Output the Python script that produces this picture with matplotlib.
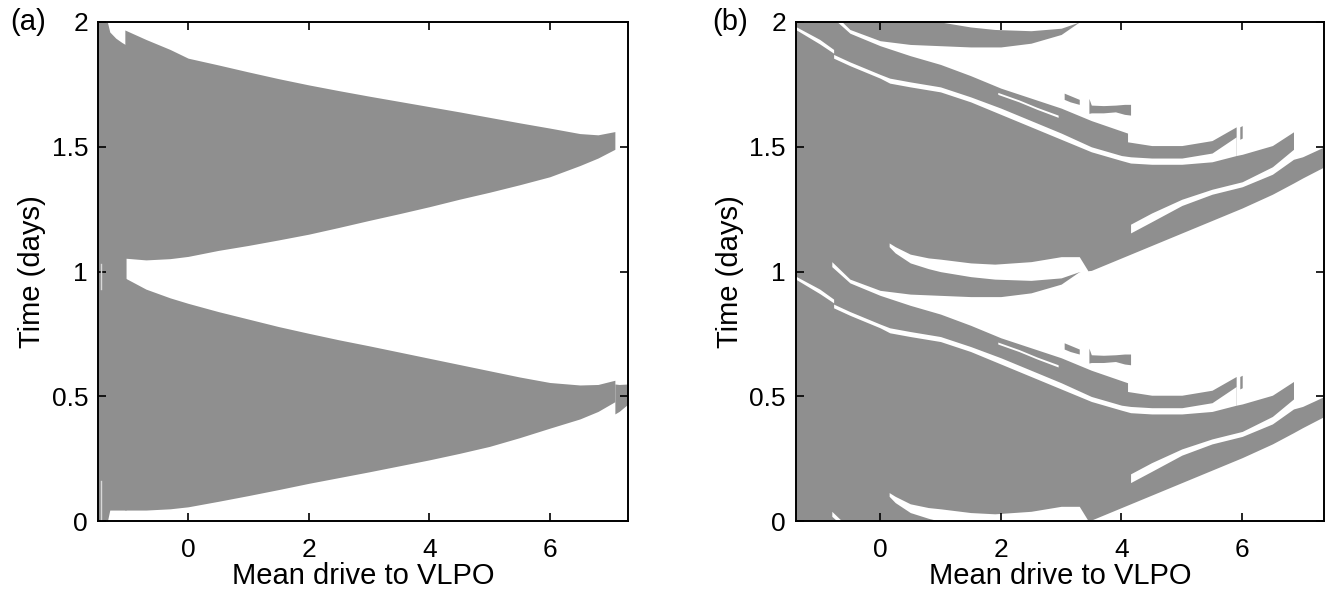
import numpy as np
import matplotlib.pyplot as plt

plt.rcParams['font.family'] = ['Liberation Sans', 'DejaVu Sans']

GRAY = '#8f8f8f'

# ---------------- panel (a) ----------------
a_x = [-1.05, -0.7, -0.3, 0.0, 0.5, 1.0, 1.5, 2.0, 2.5, 3.0, 3.5, 4.0, 4.5, 5.0, 5.5, 6.0, 6.5, 6.8, 7.08]
# first day band
a_day0_lo = [0.045, 0.045, 0.05, 0.058, 0.08, 0.103, 0.127, 0.152, 0.175, 0.198, 0.222, 0.246, 0.272, 0.30, 0.335, 0.373, 0.41, 0.44, 0.479]
a_day0_hi = [0.975, 0.93, 0.895, 0.873, 0.84, 0.81, 0.78, 0.753, 0.727, 0.703, 0.678, 0.653, 0.628, 0.603, 0.578, 0.556, 0.546, 0.548, 0.565]
# second day band
a_day1_lo = [1.054, 1.047, 1.052, 1.061, 1.085, 1.105, 1.127, 1.15, 1.177, 1.205, 1.232, 1.26, 1.29, 1.318, 1.348, 1.38, 1.425, 1.455, 1.49]
a_day1_hi = [1.968, 1.93, 1.89, 1.855, 1.828, 1.80, 1.773, 1.748, 1.725, 1.703, 1.682, 1.661, 1.64, 1.618, 1.596, 1.575, 1.553, 1.548, 1.561]
# left block (low drive: gray over whole day)
a_left_x = [-1.5, -1.34, -1.3, -1.2, -1.1, -1.03]
a_left_lo = [0.0, 0.0, 0.045, 0.045, 0.045, 0.045]
a_left_hi = [2.0, 2.0, 1.96, 1.935, 1.918, 1.908]
# right end piece
a_right_x = [7.08, 7.15, 7.3]
a_right_lo = [0.43, 0.44, 0.47]
a_right_hi = [0.55, 0.548, 0.55]
# thin light stripe
a_stripe_x = -1.44
a_stripe_segs = [(0.0, 0.16), (0.93, 1.03)]

# ---------------- panel (b) ----------------
# values given for one day (may spill past 0..1); the pattern repeats every day
b_extent_x = [-1.4, 7.36]

# thin white gap G1
g1_x = [-1.4, -1.0, -0.77, -0.77, -0.5, 0.0, 0.16, 0.5, 1.0, 1.5, 2.0, 2.5, 3.0, 3.5, 4.0, 4.15, 4.5, 5.0, 5.5, 5.9]
g1_lo = [0.970, 0.912, 0.875, 0.855, 0.825, 0.775, 0.755, 0.74, 0.72, 0.68, 0.63, 0.58, 0.53, 0.48, 0.445, 0.435, 0.43, 0.43, 0.44, 0.465]
g1_hi = [0.982, 0.93, 0.89, 0.87, 0.84, 0.79, 0.775, 0.76, 0.74, 0.70, 0.655, 0.605, 0.555, 0.50, 0.465, 0.46, 0.455, 0.455, 0.475, 0.54]

# large white region (opens from gap G2)
wb_x = [-0.8, -0.5, 0.0, 0.5, 1.0, 1.5, 2.0, 2.5, 3.0, 3.3, 3.5, 4.1, 4.1, 4.5, 5.0, 5.5, 5.9, 5.9, 6.0, 6.5, 6.85, 6.85, 7.0, 7.36]
wb_lo = [1.02, 0.955, 0.905, 0.865, 0.83, 0.785, 0.735, 0.695, 0.655, 0.625, 0.605, 0.555, 0.52, 0.505, 0.505, 0.525, 0.58, 0.465, 0.47, 0.505, 0.56, 0.45, 0.46, 0.5]
wb_hi = [1.04, 0.97, 0.925, 0.91, 0.905, 0.90, 0.90, 0.915, 0.95, 1.0, 1.005, 1.065, 1.065, 1.105, 1.155, 1.205, 1.245, 1.245, 1.255, 1.31, 1.355, 1.355, 1.375, 1.42]

# white crescent near the day boundary
cr_x = [0.15, 0.25, 0.5, 0.8, 1.0, 1.5, 1.9, 2.5, 3.0, 3.3, 3.44]
cr_lo = [1.10, 1.075, 1.035, 1.012, 1.0, 0.98, 0.97, 0.965, 0.975, 1.0, 1.0]
cr_hi = [1.115, 1.10, 1.07, 1.055, 1.05, 1.035, 1.03, 1.04, 1.06, 1.06, 1.005]

# thin white line splitting the upper branch
tl_x = [1.95, 2.3, 2.6, 2.95]
tl_lo = [0.71, 0.68, 0.65, 0.618]
tl_hi = [0.718, 0.688, 0.658, 0.627]

# white sliver between the two lowest branches
sl_x = [4.15, 4.5, 5.0, 5.5, 6.0, 6.5, 6.85]
sl_lo = [0.155, 0.2, 0.265, 0.31, 0.34, 0.39, 0.45]
sl_hi = [0.19, 0.235, 0.29, 0.33, 0.36, 0.42, 0.49]

# small isolated gray pieces in the white region
pc_x = [3.46, 3.5, 3.7, 3.9, 4.05, 4.15]
pc_lo = [0.634, 0.636, 0.636, 0.64, 0.63, 0.627]
pc_hi = [0.694, 0.667, 0.665, 0.667, 0.67, 0.67]
dash_x = [3.05, 3.15, 3.3]
dash_lo = [0.69, 0.68, 0.67]
dash_hi = [0.715, 0.705, 0.69]
tip_x = [5.96, 6.0]
tip_lo = [0.53, 0.535]
tip_hi = [0.58, 0.585]
day_offsets = [-1, 0, 1]


def style_axes(ax, xlim, label, label_x):
    ax.set_xlim(xlim)
    ax.set_ylim(0, 2)
    ax.set_xticks([0, 2, 4, 6])
    ax.set_yticks([0, 0.5, 1, 1.5, 2])
    ax.set_yticklabels(['0', '0.5', '1', '1.5', '2'])
    ax.tick_params(direction='in', top=True, right=True, length=6, width=1.2,
                   labelsize=19)
    ax.tick_params(axis='x', pad=12)
    ax.tick_params(axis='y', pad=7)
    for s in ax.spines.values():
        s.set_linewidth(1.4)
    ax.set_xlabel('Mean drive to VLPO', fontsize=21, labelpad=0)
    ax.set_ylabel('Time (days)', fontsize=21, labelpad=4)
    ax.text(label_x, 1.0, label, transform=ax.transAxes, fontsize=21,
            ha='left', va='center')


fig = plt.figure(figsize=(13.26, 5.94), dpi=100)
ax_a = fig.add_axes([0.0737, 0.1224, 0.4, 0.8406])
ax_b = fig.add_axes([0.6000, 0.1224, 0.3987, 0.8406])

# panel (a)
ax_a.fill_between(a_x, a_day0_lo, a_day0_hi, color=GRAY, lw=0)
ax_a.fill_between(a_x, a_day1_lo, a_day1_hi, color=GRAY, lw=0)
ax_a.fill_between(a_left_x, a_left_lo, a_left_hi, color=GRAY, lw=0)
ax_a.fill_between(a_right_x, a_right_lo, a_right_hi, color=GRAY, lw=0)
for y0, y1 in a_stripe_segs:
    ax_a.plot([a_stripe_x, a_stripe_x], [y0, y1], color='#d8d8d8', lw=1)
style_axes(ax_a, (-1.5, 7.3), '(a)', -0.165)

# panel (b)
ax_b.fill_between(b_extent_x, 0, 2, color=GRAY, lw=0)
for d in day_offsets:
    ax_b.fill_between(wb_x, np.add(wb_lo, d), np.add(wb_hi, d), color='white', lw=0)
    ax_b.fill_between(g1_x, np.add(g1_lo, d), np.add(g1_hi, d), color='white', lw=0)
    ax_b.fill_between(cr_x, np.add(cr_lo, d), np.add(cr_hi, d), color='white', lw=0)
    ax_b.fill_between(tl_x, np.add(tl_lo, d), np.add(tl_hi, d), color='white', lw=0)
    ax_b.fill_between(sl_x, np.add(sl_lo, d), np.add(sl_hi, d), color='white', lw=0)
    ax_b.fill_between(pc_x, np.add(pc_lo, d), np.add(pc_hi, d), color=GRAY, lw=0)
    ax_b.fill_between(dash_x, np.add(dash_lo, d), np.add(dash_hi, d), color=GRAY, lw=0)
    ax_b.fill_between(tip_x, np.add(tip_lo, d), np.add(tip_hi, d), color=GRAY, lw=0)
style_axes(ax_b, (-1.4, 7.36), '(b)', -0.158)

fig.savefig('out.png', dpi=100)
